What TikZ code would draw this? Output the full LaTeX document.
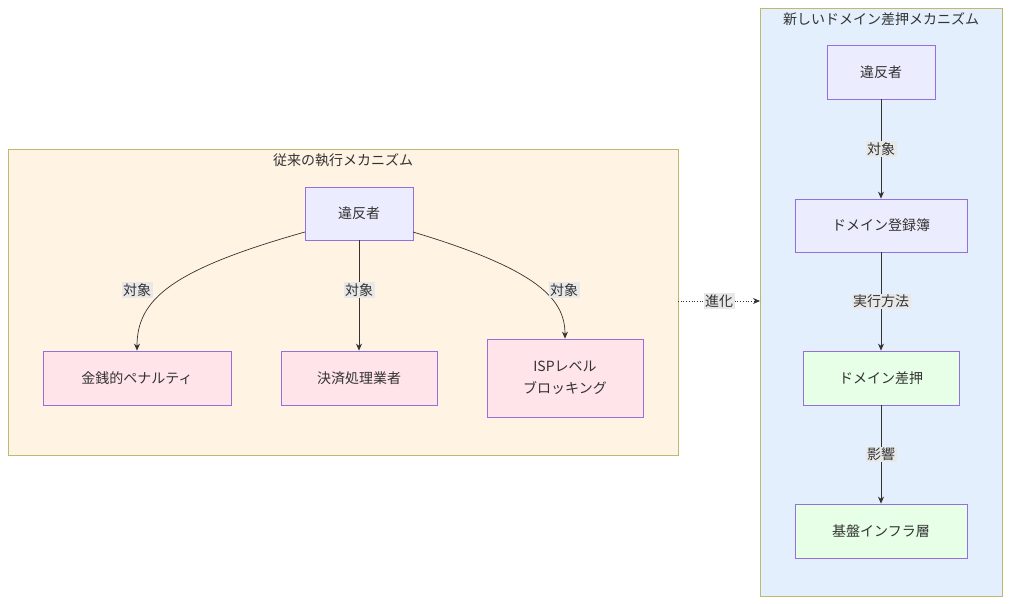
\documentclass[tikz,border=0pt]{standalone}
\usepackage{fontspec}
\setmainfont{Noto Sans CJK JP}
\usetikzlibrary{arrows.meta}
\definecolor{nodefill}{HTML}{ECECFF}
\definecolor{nodeline}{HTML}{9370DB}
\definecolor{pinkfill}{HTML}{FFE4EA}
\definecolor{greenfill}{HTML}{E6FFE6}
\definecolor{lclfill}{HTML}{FFF3E3}
\definecolor{rclfill}{HTML}{E3EFFD}
\definecolor{clline}{HTML}{BDBA6E}
\definecolor{lblbg}{HTML}{E8E8E8}
\definecolor{edge}{HTML}{333333}
\tikzset{
 box/.style={draw=nodeline,fill=nodefill,line width=0.8pt,align=center,font=\fontsize{14}{22}\selectfont,text=black!80,inner sep=0pt},
 lbl/.style={fill=lblbg,font=\fontsize{14}{16}\selectfont,text=black!80,inner sep=1.5pt},
 cl/.style={draw=clline,line width=0.8pt},
 arr/.style={draw=edge,line width=0.7pt,-{Stealth[length=7pt,width=6pt]}},
 ttl/.style={font=\fontsize{14}{16}\selectfont,text=black!80}
}
\begin{document}
\begin{tikzpicture}[x=1pt,y=-1pt]
\useasboundingbox (0,0) rectangle (1010,604);
\fill[white] (0,0) rectangle (1010,604);
\draw[cl,fill=lclfill] (8,149) rectangle (678,455);
\node[ttl] (lt) at (343,160) {従来の執行メカニズム};
\draw[cl,fill=rclfill] (760,8) rectangle (1002,596);
\node[ttl] (rt) at (881,19) {新しいドメイン差押メカニズム};
\coordinate (lc) at (678,301);
\coordinate (rc) at (760,301);

\node[box,minimum width=108pt,minimum height=53pt] (v1) at (359,213.5) {違反者};
\node[box,fill=pinkfill,minimum width=188pt,minimum height=54pt] (m) at (137,378) {金銭的ペナルティ};
\node[box,fill=pinkfill,minimum width=156pt,minimum height=54pt] (p) at (359,378) {決済処理業者};
\node[box,fill=pinkfill,minimum width=156pt,minimum height=78pt] (isp) at (565,378) {ISPレベル\\ブロッキング};

\node[box,minimum width=108pt,minimum height=54pt] (v2) at (881,72) {違反者};
\node[box,minimum width=172pt,minimum height=53pt] (reg) at (881,225.5) {ドメイン登録簿};
\node[box,fill=greenfill,minimum width=156pt,minimum height=54pt] (sz) at (881,378) {ドメイン差押};
\node[box,fill=greenfill,minimum width=172pt,minimum height=54pt] (inf) at (881,531) {基盤インフラ層};

\draw[arr] (305,232) .. controls (170,270) and (137,300) .. (m.north);
\draw[arr] (v1.south) -- (p.north);
\draw[arr] (413,232) .. controls (540,270) and (565,300) .. (isp.north);
\node[lbl] at (137,290) {対象};
\node[lbl] at (359,290) {対象};
\node[lbl] at (564,290) {対象};

\draw[arr] (v2) -- node[lbl] {対象} (reg);
\draw[arr] (reg) -- node[lbl] {実行方法} (sz);
\draw[arr] (sz) -- node[lbl] {影響} (inf);

\draw[arr,dotted] (lc) -- node[lbl] {進化} (rc);
\end{tikzpicture}
\end{document}
